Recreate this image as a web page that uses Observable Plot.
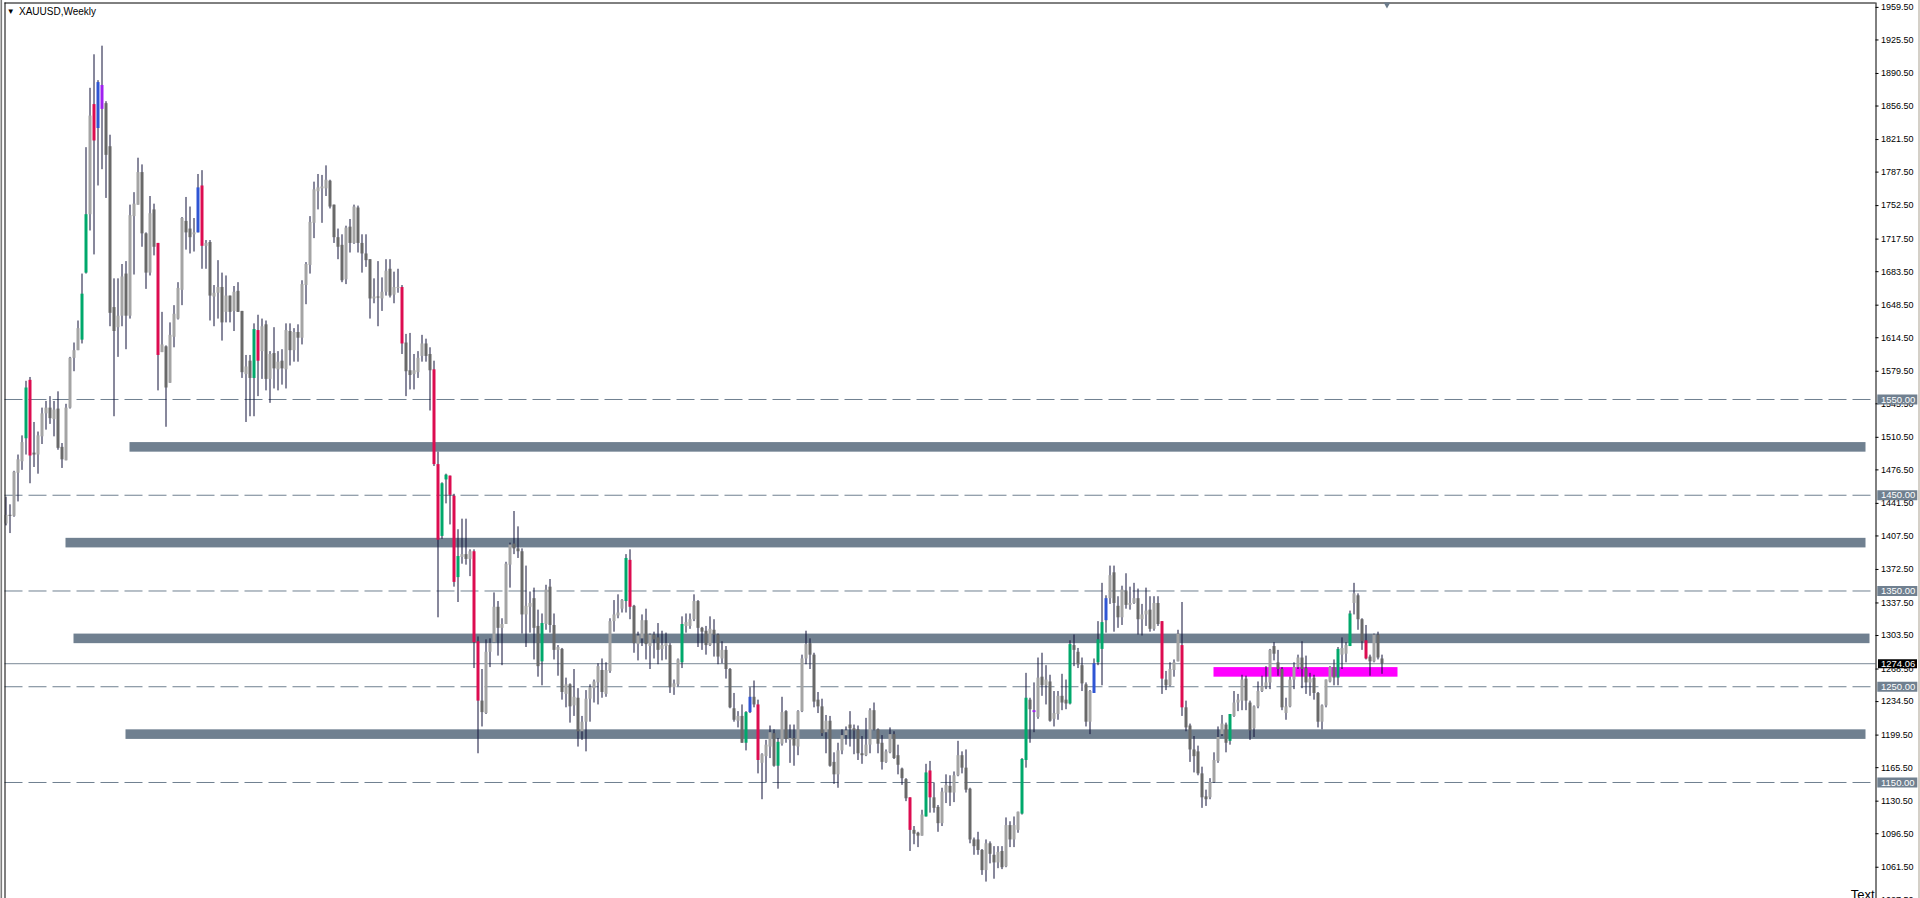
<!DOCTYPE html>
<html><head><meta charset="utf-8">
<script src="https://cdn.jsdelivr.net/npm/d3@7"></script>
<script src="https://cdn.jsdelivr.net/npm/@observablehq/plot@0.6"></script>
<style>html,body{margin:0;padding:0;background:#fff;overflow:hidden}#chart svg{display:block}</style>
</head><body><div id="chart"></div>
<script>
// Weekly XAUUSD candles (bar index 0 = oldest)
const opens = [1420,1429,1428,1473,1485,1509,1570,1494,1492,1511,1535,1541,1529,1540,1500,1486,1541,1593,1601,1612,1682,1743,1858,1833,1878,1859,1814,1646,1625,1637,1681,1637,1741,1753,1787,1723,1682,1748,1713,1599,1605,1567,1615,1634,1664,1736,1728,1722,1724,1773,1710,1714,1657,1661,1667,1641,1658,1642,1663,1642,1576,1590,1572,1622,1600,1628,1571,1598,1581,1590,1581,1621,1601,1620,1614,1669,1690,1734,1767,1770,1770,1778,1753,1719,1711,1675,1730,1713,1750,1713,1702,1696,1655,1657,1655,1662,1686,1659,1666,1667,1609,1580,1576,1578,1595,1608,1597,1581,1482,1407,1466,1470,1449,1364,1385,1388,1383,1391,1297,1235,1222,1286,1296,1333,1311,1315,1377,1399,1394,1391,1325,1333,1342,1313,1276,1315,1354,1314,1288,1289,1242,1252,1230,1238,1203,1213,1237,1248,1254,1267,1242,1266,1318,1324,1331,1339,1382,1334,1294,1300,1319,1292,1304,1301,1289,1292,1293,1249,1252,1275,1313,1313,1320,1339,1311,1308,1293,1309,1304,1279,1288,1268,1227,1214,1219,1191,1223,1239,1231,1170,1177,1187,1201,1167,1190,1224,1194,1196,1187,1224,1279,1295,1283,1236,1229,1202,1214,1171,1158,1183,1199,1210,1206,1205,1180,1178,1189,1225,1205,1191,1171,1181,1200,1178,1164,1153,1134,1100,1097,1094,1114,1162,1134,1124,1107,1139,1146,1139,1157,1178,1165,1143,1090,1090,1079,1058,1086,1074,1066,1078,1062,1105,1090,1100,1117,1173,1236,1225,1218,1260,1251,1255,1216,1221,1240,1236,1232,1293,1286,1272,1252,1213,1243,1275,1289,1319,1342,1369,1334,1322,1350,1335,1337,1342,1320,1325,1330,1310,1337,1318,1257,1251,1267,1276,1293,1228,1209,1184,1182,1159,1135,1134,1150,1172,1200,1210,1193,1219,1233,1235,1258,1233,1206,1229,1245,1250,1254,1292,1275,1268,1222,1229,1257,1270,1280,1269,1254,1259,1243,1213,1230,1255,1270,1259,1283,1284,1292,1337,1345,1320,1298,1281,1276,1304,1279];
const highs = [1448,1440,1475,1492,1512,1569,1573,1526,1516,1541,1548,1553,1548,1558,1504,1545,1594,1609,1632,1681,1813,1875,1910,1883,1919,1861,1826,1676,1676,1691,1694,1753,1766,1802,1795,1724,1762,1754,1713,1641,1606,1630,1648,1672,1740,1761,1751,1739,1785,1789,1716,1716,1669,1695,1682,1679,1658,1668,1672,1642,1596,1596,1629,1638,1634,1632,1600,1625,1600,1602,1629,1629,1624,1628,1674,1693,1741,1777,1785,1784,1794,1779,1753,1728,1722,1731,1738,1753,1752,1722,1722,1696,1676,1694,1677,1696,1696,1683,1686,1669,1618,1619,1597,1600,1617,1613,1604,1590,1495,1463,1472,1470,1451,1414,1425,1425,1393,1393,1302,1268,1299,1300,1348,1339,1321,1380,1400,1433,1417,1394,1376,1349,1353,1330,1326,1356,1362,1326,1293,1290,1259,1253,1268,1248,1219,1246,1252,1257,1274,1279,1275,1321,1340,1346,1341,1388,1393,1335,1307,1325,1331,1305,1307,1316,1308,1306,1295,1257,1279,1323,1326,1326,1346,1340,1312,1313,1323,1320,1305,1297,1292,1269,1243,1224,1231,1224,1249,1256,1236,1180,1194,1209,1205,1196,1239,1225,1210,1210,1225,1283,1308,1300,1285,1244,1237,1220,1219,1181,1191,1205,1208,1224,1210,1209,1198,1217,1227,1233,1206,1199,1184,1207,1203,1189,1165,1154,1134,1104,1098,1121,1169,1172,1149,1126,1144,1158,1157,1161,1193,1182,1184,1144,1092,1098,1080,1090,1088,1083,1083,1083,1113,1109,1114,1119,1175,1264,1238,1254,1280,1285,1272,1262,1245,1245,1263,1257,1298,1304,1290,1280,1254,1246,1279,1318,1358,1345,1376,1376,1344,1355,1368,1354,1358,1352,1336,1353,1344,1344,1344,1318,1266,1275,1278,1309,1338,1235,1211,1198,1188,1166,1142,1154,1181,1208,1220,1212,1221,1245,1242,1262,1261,1235,1230,1255,1261,1271,1289,1296,1288,1270,1238,1260,1275,1283,1297,1282,1264,1262,1244,1231,1257,1271,1278,1291,1301,1296,1329,1358,1347,1321,1314,1283,1305,1307,1283];
const lows = [1418,1410,1427,1443,1476,1492,1462,1479,1472,1503,1518,1524,1511,1497,1478,1486,1540,1579,1601,1608,1681,1726,1701,1773,1790,1760,1626,1532,1594,1626,1602,1634,1680,1753,1709,1665,1679,1700,1559,1599,1521,1567,1604,1633,1648,1706,1702,1704,1724,1686,1686,1632,1626,1634,1611,1630,1630,1621,1641,1572,1526,1532,1532,1553,1571,1559,1546,1561,1559,1565,1561,1585,1589,1589,1607,1649,1681,1718,1748,1734,1762,1749,1713,1696,1672,1670,1703,1712,1703,1682,1688,1634,1650,1626,1642,1658,1656,1650,1661,1597,1553,1560,1560,1572,1589,1589,1538,1480,1322,1404,1441,1419,1354,1338,1378,1377,1365,1269,1180,1208,1221,1270,1296,1282,1272,1315,1353,1388,1384,1305,1291,1306,1278,1260,1251,1309,1306,1278,1261,1236,1228,1212,1219,1187,1194,1182,1213,1233,1231,1238,1239,1264,1307,1321,1327,1327,1320,1285,1277,1292,1278,1268,1279,1273,1277,1278,1243,1241,1250,1269,1306,1310,1318,1291,1288,1283,1292,1281,1273,1274,1258,1227,1213,1207,1191,1183,1222,1228,1159,1132,1150,1175,1166,1143,1188,1191,1170,1167,1178,1223,1273,1268,1228,1222,1198,1180,1166,1148,1144,1179,1189,1187,1179,1173,1169,1177,1180,1204,1180,1163,1170,1180,1174,1158,1147,1130,1078,1085,1082,1094,1114,1118,1118,1098,1104,1128,1125,1129,1156,1159,1139,1086,1074,1074,1053,1046,1065,1049,1060,1059,1061,1082,1082,1097,1116,1165,1191,1202,1216,1240,1231,1213,1208,1215,1225,1226,1231,1271,1269,1245,1208,1200,1243,1272,1251,1306,1336,1307,1311,1314,1331,1330,1336,1304,1303,1313,1307,1308,1313,1242,1246,1250,1260,1276,1219,1203,1171,1160,1157,1123,1125,1132,1149,1170,1198,1181,1189,1218,1224,1225,1225,1194,1197,1227,1244,1247,1247,1277,1261,1225,1215,1228,1247,1268,1248,1242,1240,1236,1207,1205,1228,1254,1251,1251,1268,1275,1292,1325,1309,1288,1278,1261,1275,1278,1263];
const closes = [1429,1428,1474,1487,1505,1562,1491,1492,1512,1535,1541,1530,1539,1499,1487,1541,1593,1601,1624,1660,1743,1846,1820,1881,1853,1805,1640,1621,1637,1678,1637,1742,1754,1787,1723,1682,1744,1709,1596,1607,1562,1617,1639,1666,1739,1724,1719,1724,1771,1710,1713,1658,1661,1667,1630,1658,1641,1662,1641,1578,1584,1572,1623,1590,1626,1571,1597,1582,1589,1582,1622,1601,1620,1614,1670,1691,1735,1769,1771,1772,1779,1751,1719,1709,1674,1729,1713,1751,1713,1702,1695,1655,1657,1656,1662,1684,1658,1667,1667,1608,1579,1575,1580,1593,1608,1595,1580,1482,1403,1462,1471,1450,1359,1386,1388,1383,1391,1296,1235,1223,1286,1295,1333,1311,1315,1378,1398,1394,1391,1325,1334,1337,1311,1271,1316,1351,1314,1288,1291,1244,1252,1229,1239,1203,1213,1237,1249,1255,1271,1244,1267,1318,1325,1327,1340,1384,1333,1295,1303,1319,1294,1304,1299,1288,1293,1295,1249,1253,1278,1315,1317,1320,1339,1311,1307,1293,1310,1304,1281,1288,1268,1228,1215,1219,1191,1223,1239,1231,1173,1179,1189,1202,1167,1192,1223,1195,1196,1188,1224,1279,1294,1283,1234,1229,1201,1214,1167,1158,1183,1199,1204,1206,1204,1180,1178,1189,1225,1205,1190,1171,1182,1200,1175,1168,1154,1133,1100,1096,1094,1116,1160,1134,1123,1107,1140,1147,1139,1157,1178,1165,1142,1090,1083,1079,1058,1086,1075,1066,1077,1061,1105,1090,1105,1119,1174,1238,1226,1223,1259,1251,1257,1214,1222,1240,1233,1232,1294,1288,1273,1253,1213,1245,1274,1299,1317,1342,1366,1337,1322,1351,1335,1337,1342,1320,1325,1329,1310,1337,1315,1258,1251,1268,1275,1305,1228,1207,1184,1177,1159,1134,1132,1150,1173,1197,1211,1191,1221,1233,1236,1257,1235,1204,1229,1245,1250,1254,1288,1284,1268,1228,1229,1257,1270,1280,1268,1254,1258,1243,1213,1230,1257,1270,1259,1289,1290,1293,1326,1347,1320,1297,1279,1276,1304,1280,1274.06];

// Candles highlighted by the indicator colouring
const greenBars = [5,19,20,62,109,110,113,134,155,169,185,193,230,254,255,266,273,274,306,333,336];
const redBars = [6,22,38,49,63,99,107,108,111,112,117,118,156,188,226,231,289,294,340];
const blueBars = [23,48,186,272,275];
const purpleBars = [24,257];

// Horizontal price objects
const dashedLevels = [1550, 1450, 1350, 1250, 1150];
const lastPrice = 1274.06;
const zoneFrom = [31, 15, 17, 30, 302];
const zoneTo = [465, 465, 466, 465, 348];
const zoneLow = [1495, 1395, 1295, 1195, 1260];
const zoneHigh = [1505, 1405, 1305, 1205, 1270];
const zoneKind = ["grey", "grey", "grey", "grey", "magenta"];

// Price-axis tick labels
const tickValues = [1959.5,1925.5,1890.5,1856.5,1821.5,1787.5,1752.5,1717.5,1683.5,1648.5,1614.5,1579.5,1545.5,1510.5,1476.5,1441.5,1407.5,1372.5,1337.5,1303.5,1268.5,1234.5,1199.5,1165.5,1130.5,1096.5,1061.5,1027.5];

const symbol = "XAUUSD,Weekly";
const textObject = "Text";

// ---------- layout ----------
const W = 1920, H = 898;
const mL = 4.5, mR = 44.5, mT = 2.5, mB = 0;
const barPx = 4, firstBarPx = 5.5;
const pxToBar = px => (px - firstBarPx) / barPx;
const xDomain = [pxToBar(mL), pxToBar(W - mR)];
const axisBar = xDomain[1];
const yDomain = [1028.85, 1964.1];

const COLORS = {up: "#a4a4a4", down: "#696969", wick: "#101038", green: "#00a86b", red: "#dc0c50", blue: "#2f55d4", purple: "#a020f0", slate: "#708090", magenta: "#ff00ff"};
const FONT = "'Liberation Sans', Arial, sans-serif";

const kindOf = i => greenBars.includes(i) ? "green" : redBars.includes(i) ? "red" : blueBars.includes(i) ? "blue" : purpleBars.includes(i) ? "purple" : null;

const bars = closes.map((c, i) => {
  const o = opens[i];
  let b1 = Math.min(o, c), b2 = Math.max(o, c);
  if (b2 - b1 < 1.1) { const m = (b1 + b2) / 2; b1 = m - 0.55; b2 = m + 0.55; }
  const k = kindOf(i);
  return {i, o, c, h: Math.max(highs[i], o, c), l: Math.min(lows[i], o, c), b1, b2,
          color: k ? COLORS[k] : (c >= o ? COLORS.up : COLORS.down)};
});

const zones = zoneFrom.map((f, j) => ({from: f, to: zoneTo[j], lo: zoneLow[j], hi: zoneHigh[j],
  fill: zoneKind[j] === "magenta" ? COLORS.magenta : COLORS.slate}));

const chart = Plot.plot({
  width: W, height: H,
  marginLeft: mL, marginRight: mR, marginTop: mT, marginBottom: mB,
  x: {type: "linear", domain: xDomain, axis: null},
  y: {type: "linear", domain: yDomain, axis: null},
  color: {type: "identity"},
  style: {background: "#ffffff", fontFamily: FONT},
  marks: [
    Plot.rect(zones, {x1: "from", x2: "to", y1: "lo", y2: "hi", fill: "fill"}),
    Plot.ruleY(dashedLevels, {stroke: COLORS.slate, strokeWidth: 1, strokeDasharray: "18,6"}),
    Plot.ruleY([lastPrice], {stroke: "#7a8896", strokeWidth: 1}),
    Plot.ruleX(bars, {x: "i", y1: "l", y2: "h", stroke: COLORS.wick, strokeWidth: 1}),
    Plot.ruleX(bars, {x: "i", y1: "b1", y2: "b2", stroke: "color", strokeWidth: 3}),
    // frame
    Plot.ruleX([xDomain[0]], {stroke: "#000", strokeWidth: 1}),
    Plot.ruleY([yDomain[1]], {stroke: "#000", strokeWidth: 1}),
    Plot.ruleX([axisBar], {stroke: "#000", strokeWidth: 1}),
    Plot.ruleX([pxToBar(0.8)], {y1: yDomain[0], y2: yDomain[1] + 3, stroke: "#7c7c7c", strokeWidth: 1.6}),
    Plot.ruleX([pxToBar(1918.5)], {y1: yDomain[0], y2: yDomain[1] + 3, stroke: "#d4d0c8", strokeWidth: 2}),
    // price axis
    Plot.ruleY(tickValues, {x1: axisBar, x2: pxToBar(1878.5), stroke: "#000"}),
    Plot.text(tickValues, {x: axisBar, y: d => d, dx: 5, text: d => d.toFixed(2), textAnchor: "start", lineAnchor: "middle", fontSize: 9, fill: "#000", fontFamily: FONT}),
    Plot.ruleY(dashedLevels, {x1: pxToBar(1877.3), x2: pxToBar(1917.3), stroke: COLORS.slate, strokeWidth: 10}),
    Plot.text(dashedLevels, {x: axisBar, y: d => d, dx: 5, text: d => d.toFixed(2), textAnchor: "start", lineAnchor: "middle", fontSize: 9.5, fill: "#fff", fontFamily: FONT}),
    Plot.ruleY([lastPrice], {x1: pxToBar(1878), x2: pxToBar(1917), stroke: "#000", strokeWidth: 9}),
    Plot.text([lastPrice], {x: axisBar, y: d => d, dx: 5, text: d => d.toFixed(2), textAnchor: "start", lineAnchor: "middle", fontSize: 9.5, fill: "#fff", fontFamily: FONT}),
    // labels
    Plot.text(["\u25BC"], {frameAnchor: "top-left", dx: 5.8, dy: 8.4, lineAnchor: "middle", textAnchor: "middle", fontSize: 8, fill: "#000"}),
    Plot.text([symbol], {frameAnchor: "top-left", dx: 14, dy: 8.7, lineAnchor: "middle", textAnchor: "start", fontSize: 10, fill: "#000", fontFamily: FONT}),
    Plot.text([textObject], {frameAnchor: "bottom-right", dx: -1.5, dy: -3.5, lineAnchor: "middle", textAnchor: "end", fontSize: 13, fill: "#000", fontFamily: FONT}),
    Plot.dot([0], {x: pxToBar(1386.5), y: yDomain[1], dy: 1.5, symbol: "triangle", r: 2.5, rotate: 180, fill: "#6a7a8a", stroke: "none"})
  ]
});
document.getElementById("chart").appendChild(chart);
</script>
</body></html>
